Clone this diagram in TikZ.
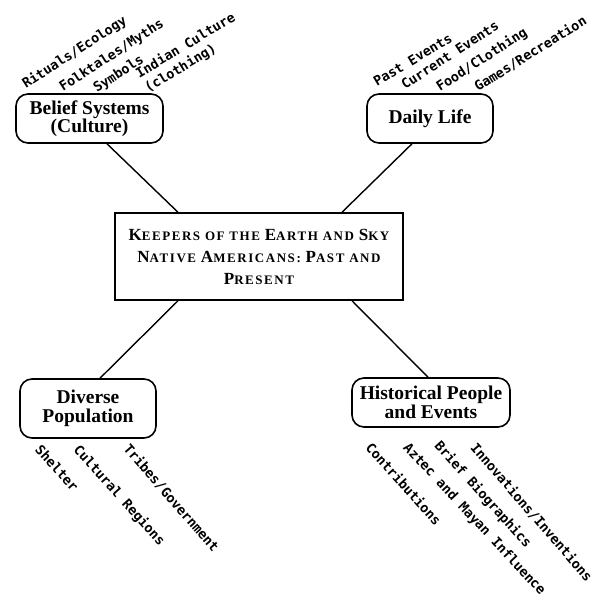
\documentclass[tikz,border=0pt]{standalone}
\usepackage{fontspec}
\setmainfont{Liberation Serif}
\newfontfamily\etichfont{DejaVu Sans Mono}
\newfontfamily\titolofont[LetterSpace=12]{Liberation Serif}
\newcommand{\gr}[1]{{\fontsize{17}{17}\selectfont #1}}

\tikzset{
  ramo/.style={draw, rounded corners=12pt, line width=1.6pt, align=center,
    font=\fontsize{19.5}{18.5}\selectfont\bfseries, minimum height=49pt, inner sep=0pt},
  titolo/.style={draw, line width=1.5pt, align=center,
    font=\titolofont\bfseries\fontsize{13}{22}\selectfont},
  foglia/.style={font=\etichfont\bfseries\fontsize{13.4}{17}\selectfont, inner sep=0pt, align=left},
  arco/.style={line width=1.4pt}
}

\begin{document}
\begin{tikzpicture}[x=1pt, y=-1pt]
    \useasboundingbox (0,0) rectangle (605,597);

        % Nodi
        \node[titolo, minimum width=288pt, minimum height=87pt] (T) at (259,256.5)
            {\gr{K}EEPERS OF THE \gr{E}ARTH AND \gr{S}KY\\ \gr{N}ATIVE \gr{A}MERICANS: \gr{P}AST AND\\ \gr{P}RESENT};
        \node[ramo, minimum width=147pt] (B) at (89.5,118.5) {Belief Systems\\(Culture)};
        \node[ramo, minimum width=126pt] (D) at (430,118.5) {Daily Life};
        \node[ramo, minimum width=136pt, minimum height=59pt] (P) at (88,408.5) {Diverse\\Population};
        \node[ramo, minimum width=158pt] (H) at (431,402.5) {Historical People\\and Events};

        % Archi
        \draw[arco] ([xshift=17.5pt]B.south) -- ([xshift=-81pt]T.north);
        \draw[arco] ([xshift=-18pt]D.south) -- ([xshift=83pt]T.north);
        \draw[arco] ([xshift=-81pt]T.south) -- ([xshift=12pt]P.north);
        \draw[arco] ([xshift=93pt]T.south) -- ([xshift=-3pt]H.north);

        % Etichette
        \node[foglia, rotate=33, anchor=base west] (b1) at (26,89) {Rituals/Ecology};
        \node[foglia, rotate=33, anchor=base west] (b2) at (63,92) {Folktales/Myths};
        \node[foglia, rotate=33, anchor=base west] (b3) at (97,93) {Symbols};
        \node[foglia, rotate=31, anchor=base west] (b4) at (148,93) {Indian Culture\\(clothing)};

        \node[foglia, rotate=31, anchor=base west] (d1) at (377,87) {Past Events};
        \node[foglia, rotate=33, anchor=base west] (d2) at (405,90) {Current Events};
        \node[foglia, rotate=33, anchor=base west] (d3) at (440,92) {Food/Clothing};
        \node[foglia, rotate=32, anchor=base west] (d4) at (478,92) {Games/Recreation};

        \node[foglia, rotate=-48, anchor=north west] (p1) at (42,443) {Shelter};
        \node[foglia, rotate=-48, anchor=north west] (p2) at (81,443) {Cultural Regions};
        \node[foglia, rotate=-49, anchor=north west] (p3) at (131,442) {Tribes/Government};

        \node[foglia, rotate=-48, anchor=north west] (h1) at (373,441) {Contributions};
        \node[foglia, rotate=-47, anchor=north west] (h2) at (410,441) {Aztec and Mayan Influence};
        \node[foglia, rotate=-48, anchor=north west] (h3) at (442,439) {Brief Biographics};
        \node[foglia, rotate=-49, anchor=north west] (h4) at (478,441) {Innovations/Inventions};

\end{tikzpicture}
\end{document}
